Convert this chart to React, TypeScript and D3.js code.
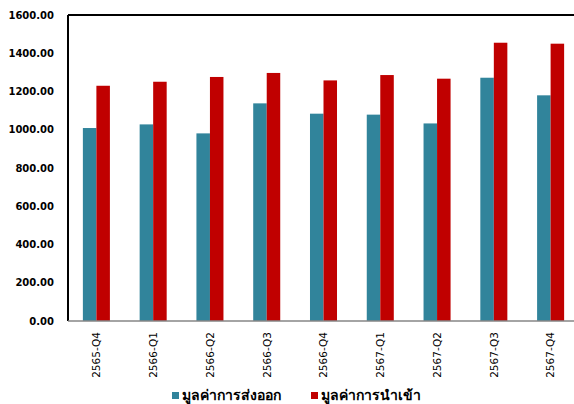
import React, { useEffect, useRef } from 'react';
import * as d3 from 'd3';

const categories = ['2565-Q4', '2566-Q1', '2566-Q2', '2566-Q3', '2566-Q4', '2567-Q1', '2567-Q2', '2567-Q3', '2567-Q4'];
const exportValues = [1009, 1028, 981, 1138, 1084, 1079, 1033, 1272, 1180];
const importValues = [1230, 1251, 1276, 1297, 1258, 1286, 1267, 1455, 1450];
const seriesNames = ['มูลค่าการส่งออก', 'มูลค่าการนำเข้า'];
const seriesColors = ['#31849B', '#C00000'];
const yTicks = [0, 200, 400, 600, 800, 1000, 1200, 1400, 1600];

const W = 574;
const H = 404;
const margin = { left: 68, top: 15, right: -5, bottom: 83 };

export default function App() {
  const ref = useRef<SVGSVGElement>(null);

  useEffect(() => {
    const svg = d3.select(ref.current);
    svg.selectAll('*').remove();

    const x0 = d3.scaleBand()
      .domain(categories)
      .range([margin.left, W - margin.right])
      .paddingInner(0.524)
      .paddingOuter(0.262);
    const x1 = d3.scaleBand()
      .domain(['0', '1'])
      .range([0, x0.bandwidth()]);
    const y = d3.scaleLinear()
      .domain([0, 1600])
      .range([H - margin.bottom, margin.top]);

    const g = svg.append('g');

    const rows = categories.map((c, i) => ({ c, vals: [exportValues[i], importValues[i]] }));
    const groups = g.selectAll('g.grp')
      .data(rows)
      .enter()
      .append('g')
      .attr('transform', d => `translate(${x0(d.c)},0)`);
    groups.selectAll('rect')
      .data(d => d.vals.map((v, k) => ({ v, k })))
      .enter()
      .append('rect')
      .attr('x', d => x1(String(d.k)) as number)
      .attr('width', x1.bandwidth())
      .attr('y', d => y(d.v))
      .attr('height', d => y(0) - y(d.v))
      .attr('fill', d => seriesColors[d.k]);

    // plot frame: left + top black, bottom gray
    g.append('line')
      .attr('x1', margin.left).attr('x2', margin.left)
      .attr('y1', y(1600)).attr('y2', y(0))
      .attr('stroke', '#000').attr('stroke-width', 2);
    g.append('line')
      .attr('x1', margin.left).attr('x2', W)
      .attr('y1', y(1600)).attr('y2', y(1600))
      .attr('stroke', '#000').attr('stroke-width', 2);
    g.append('line')
      .attr('x1', margin.left).attr('x2', W)
      .attr('y1', y(0)).attr('y2', y(0))
      .attr('stroke', '#868686').attr('stroke-width', 1.5);

    // y labels
    g.selectAll('text.ytick')
      .data(yTicks)
      .enter()
      .append('text')
      .attr('x', 54)
      .attr('y', d => y(d))
      .attr('dy', '0.36em')
      .attr('text-anchor', 'end')
      .attr('font-family', 'DejaVu Sans, Verdana, sans-serif')
      .attr('font-weight', 'bold')
      .attr('font-size', 10)
      .attr('fill', '#000')
      .text(d => d3.format('.2f')(d));

    // x labels
    g.selectAll('text.xtick')
      .data(categories)
      .enter()
      .append('text')
      .attr('transform', d => `translate(${(x0(d) as number) + x0.bandwidth() / 2},${y(0) + 11}) rotate(-90)`)
      .attr('dy', '0.36em')
      .attr('text-anchor', 'end')
      .attr('font-family', 'DejaVu Sans, Verdana, sans-serif')
      .attr('font-size', 10.5)
      .attr('fill', '#000')
      .text(d => d);

    // legend
    const legendX = [172, 311];
    seriesNames.forEach((name, i) => {
      const lg = g.append('g').attr('transform', `translate(${legendX[i]},392)`);
      lg.append('rect').attr('width', 7).attr('height', 7).attr('fill', seriesColors[i]);
      lg.append('text')
        .attr('x', 10)
        .attr('y', 7.5)
        .attr('font-family', 'Tahoma, Noto Sans, DejaVu Sans, sans-serif')
        .attr('font-weight', 'bold')
        .attr('font-size', 14)
        .attr('fill', '#000')
        .text(name);
    });
  }, []);

  return (
    <svg ref={ref} width={W} height={H} style={{ position: 'absolute', left: 0, top: 0, background: '#fff' }} />
  );
}
